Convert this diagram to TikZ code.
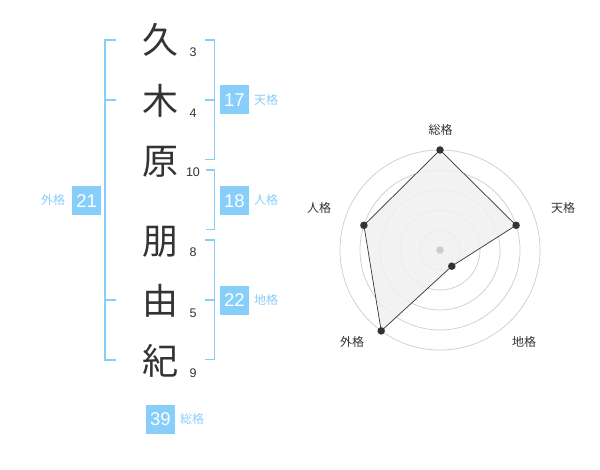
\documentclass[tikz,border=0pt]{standalone}
\usepackage{fontspec}
\setmainfont{Liberation Sans}
\newfontfamily\jp{Noto Sans CJK JP}
\definecolor{sky}{HTML}{87CEFA}
\definecolor{ink}{HTML}{333333}
\definecolor{ringc}{HTML}{CCCCCC}
\definecolor{areac}{HTML}{F0F0F0}
\begin{document}
\begin{tikzpicture}[x=1pt,y=-1pt,
  kanji/.style={font=\jp\fontsize{36}{36}\selectfont, text=ink, inner sep=0pt, text height=30pt, text depth=2.5pt},
  strokes/.style={font=\fontsize{12.5}{12.5}\selectfont, text=ink, inner sep=0pt, text height=9pt, text depth=0pt},
  kakubox/.style={fill=sky, text=white, minimum size=29pt, inner sep=0pt, font=\fontsize{18.5}{18.5}\selectfont, text height=13.3pt, text depth=0pt},
  kakulbl/.style={font=\jp\fontsize{12}{12}\selectfont, text=sky, inner sep=0pt, text height=10pt, text depth=1pt},
  bracket/.style={draw=sky, line width=1.7pt},
  ring/.style={draw=ringc, line width=0.7pt},
  axislbl/.style={font=\jp\fontsize{12}{12}\selectfont, text=ink, inner sep=0pt, text height=10pt, text depth=1pt},
  dot/.style={circle, fill=ink, inner sep=0pt, minimum size=7.5pt}
]
\useasboundingbox (0,0) rectangle (600,470);
% kanji
\node[kanji] (k1) at (160,40) {久};
\node[kanji] (k2) at (160,101) {木};
\node[kanji] (k3) at (160,161) {原};
\node[kanji] (k4) at (160,241) {朋};
\node[kanji] (k5) at (160,301) {由};
\node[kanji] (k6) at (160,361) {紀};
% stroke counts
\node[strokes] (s1) at (193,52.5) {3};
\node[strokes] (s2) at (193,113) {4};
\node[strokes] (s3) at (193,172.5) {10};
\node[strokes] (s4) at (193,252.5) {8};
\node[strokes] (s5) at (193,313) {5};
\node[strokes] (s6) at (193,373) {9};
% brackets
\draw[bracket] (116,40) -- (105,40) -- (105,360) -- (116,360);
\draw[bracket] (105,100) -- (116,100);
\draw[bracket] (105,300) -- (116,300);
\draw[bracket] (205,40) -- (214.5,40) -- (214.5,159.5) -- (205,159.5);
\draw[bracket] (205,100) -- (214.5,100);
\draw[bracket] (206,170) -- (214.5,170) -- (214.5,229.5) -- (206,229.5);
\draw[bracket] (205,240) -- (214.5,240) -- (214.5,359.5) -- (205,359.5);
\draw[bracket] (205,300) -- (214.5,300);
% boxes
\node[kakubox] (ten) at (234.5,100) {17};
\node[kakulbl] (tenl) at (266,100) {天格};
\node[kakubox] (jin) at (234.5,200.5) {18};
\node[kakulbl] (jinl) at (266,200.5) {人格};
\node[kakubox] (chi) at (234.5,300.3) {22};
\node[kakulbl] (chil) at (266,300.3) {地格};
\node[kakubox] (gai) at (86.7,200.5) {21};
\node[kakulbl] (gail) at (53,200.5) {外格};
\node[kakubox] (sou) at (160.5,419) {39};
\node[kakulbl] (soul) at (192,419) {総格};
% radar
\coordinate (c) at (440,250);
\foreach \r in {20,40,60,80,100} \draw[ring] (c) circle[radius=\r];
\coordinate (p1) at (440,150);
\coordinate (p2) at (516.1,225.3);
\coordinate (p3) at (451.8,266.2);
\coordinate (p4) at (381.2,330.9);
\coordinate (p5) at (363.9,225.3);
\filldraw[fill=areac, fill opacity=0.85, draw=ink, line width=0.7pt] (p1) -- (p2) -- (p3) -- (p4) -- (p5) -- cycle;
\fill[ringc] (c) circle[radius=3.8];
\foreach \p in {p1,p2,p3,p4,p5} \node[dot] at (\p) {};
\node[axislbl] (a1) at (440.5,130) {総格};
\node[axislbl] (a2) at (563,208) {天格};
\node[axislbl] (a3) at (524,342) {地格};
\node[axislbl] (a4) at (352,342) {外格};
\node[axislbl] (a5) at (319,208) {人格};
\end{tikzpicture}
\end{document}
